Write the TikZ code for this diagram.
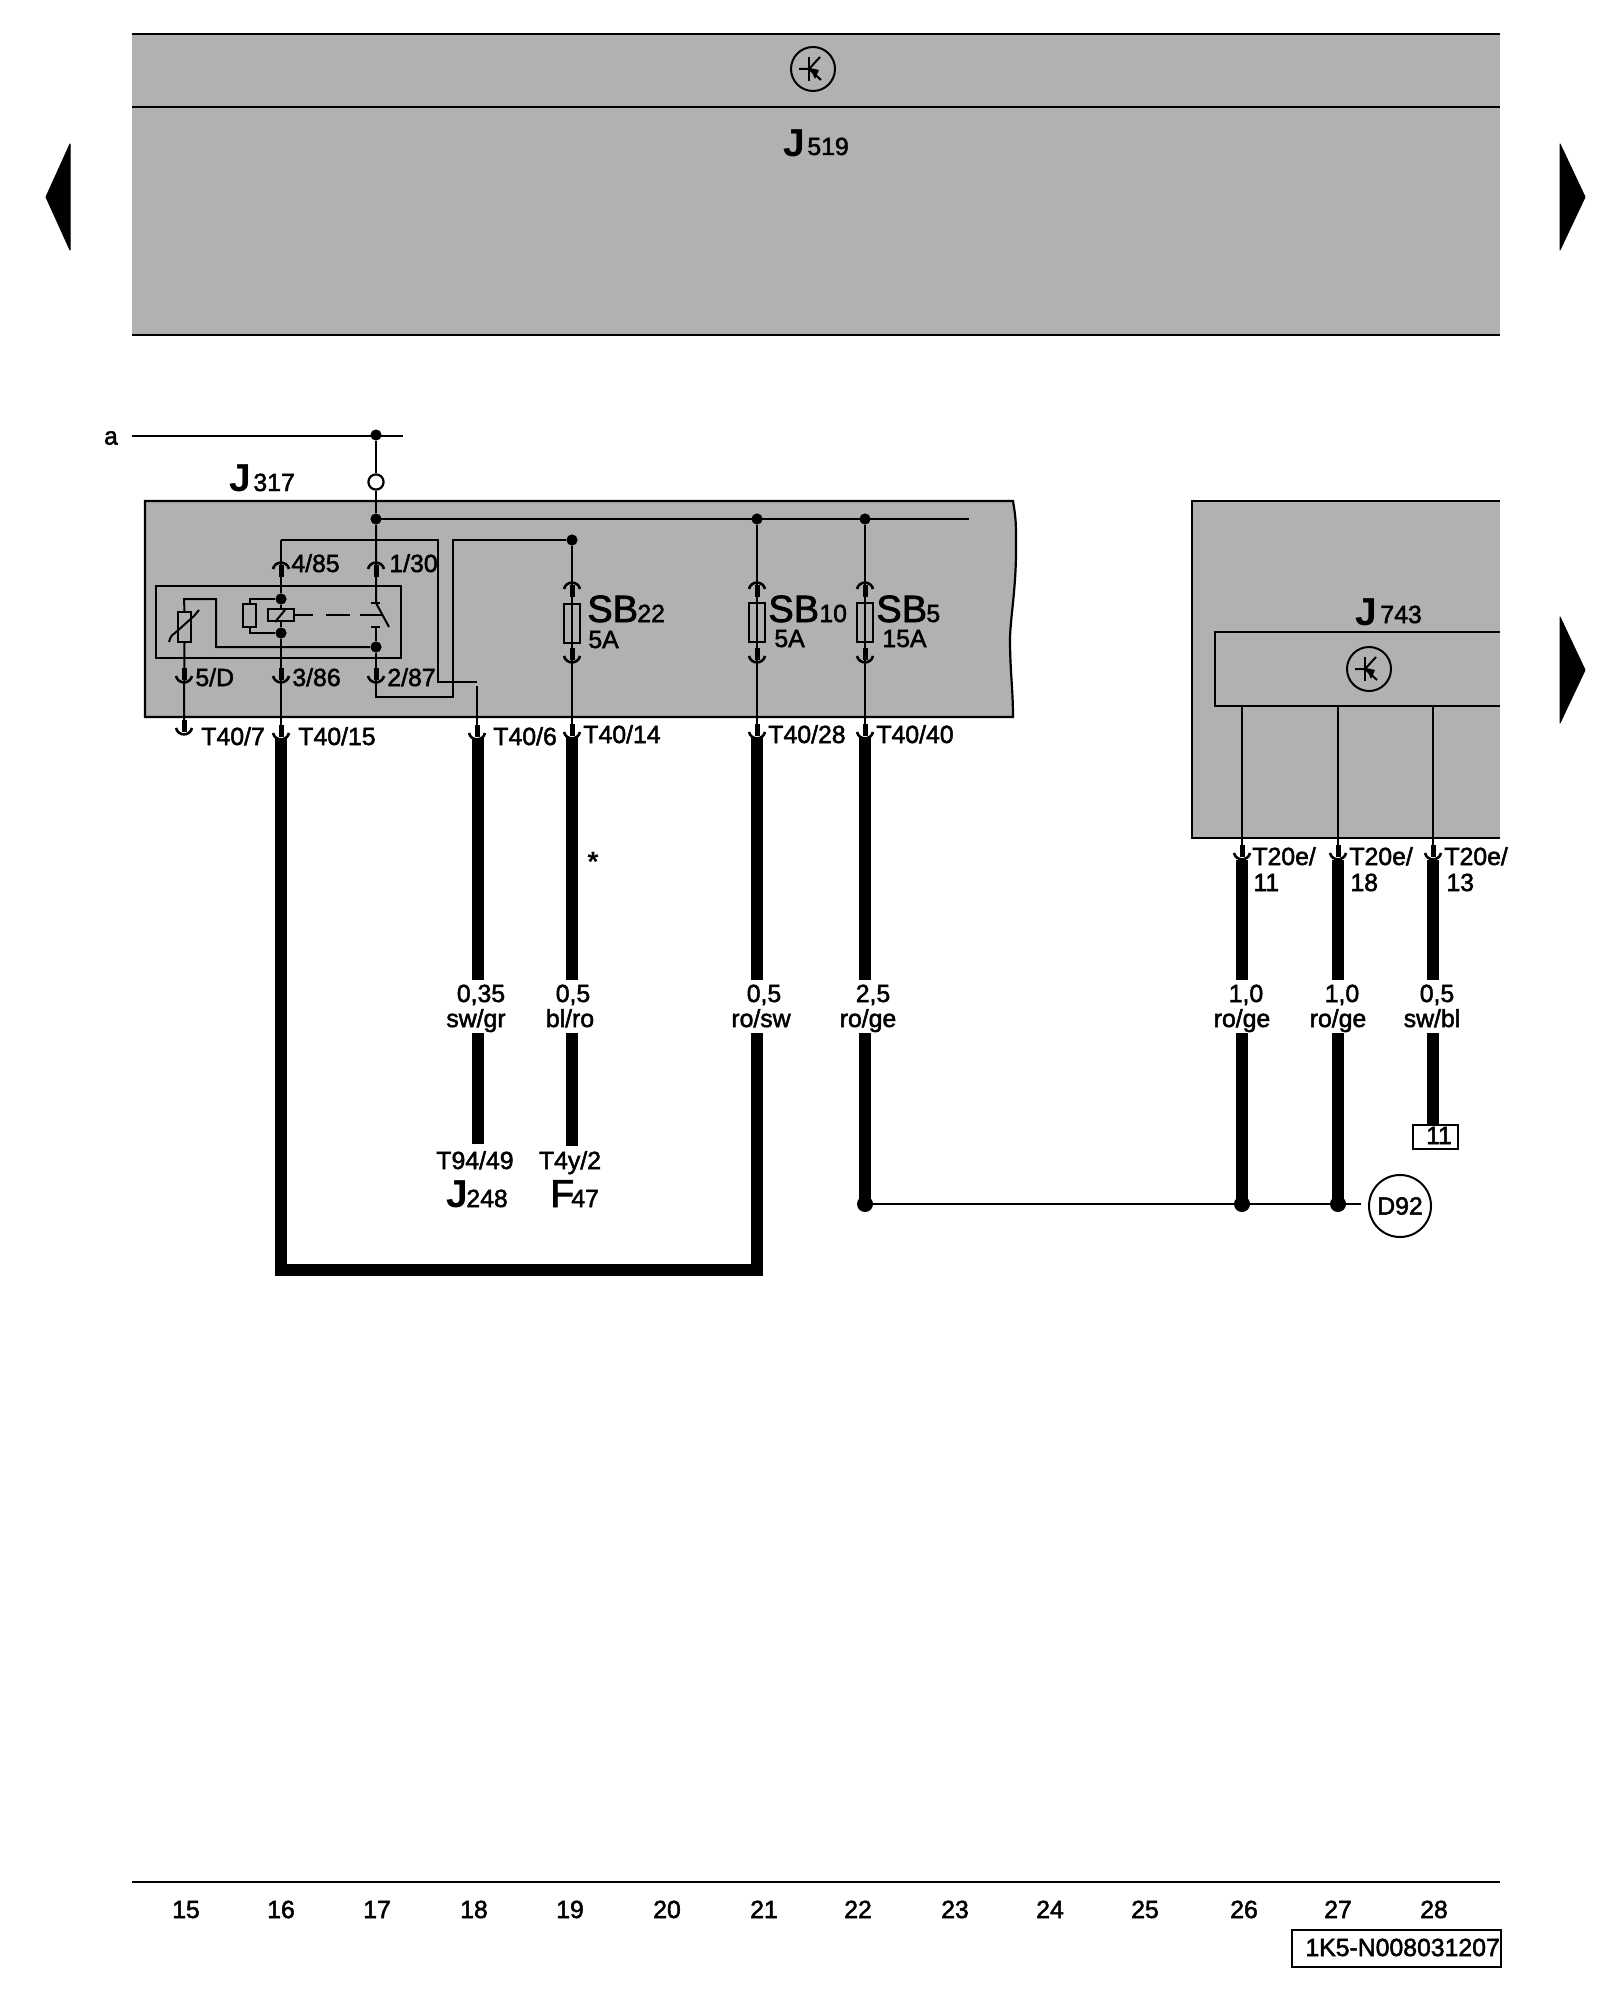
\documentclass[tikz,border=0pt]{standalone}
\usepackage{fontspec}
\setmainfont{Liberation Sans}
\newfontfamily\lab[FakeBold=2]{Liberation Sans}
\definecolor{pane}{HTML}{B1B1B1}
\newcommand\nf{\lab\fontsize{12.4}{14}\selectfont}
\newcommand\pindn[2]{%
  \draw[pinbar] (#1,#2) -- (#1,#2+12);
  \draw[pinarc] (#1-8,#2+8) .. controls (#1-6,#2+16.5) and (#1+6,#2+16.5) .. (#1+8,#2+8);}
\newcommand\pinup[2]{%
  \draw[pinbar] (#1,#2+3) -- (#1,#2+15);
  \draw[pinarc] (#1-8,#2+7) .. controls (#1-6,#2-1.5) and (#1+6,#2-1.5) .. (#1+8,#2+7);}
\newcommand\transsym[2]{%
  \begin{scope}[shift={(#1,#2)}]
    \draw[thin wire] (0,0) circle (22);
    \draw[thin wire, line width=1.3pt] (-4,-12) -- (-4,12);
    \draw[thin wire] (-14,0) -- (-4,0) -- (7,-12);
    \draw[thin wire] (-4,0) -- (8,11);
    \fill (-3,-1) -- (6,1) -- (2,10) -- cycle;
  \end{scope}}
\tikzset{
  x=0.5pt, y=-0.5pt,
  thin wire/.style={line width=1pt, line cap=butt, line join=miter},
  heavy/.style={line width=5.6pt, line cap=butt, line join=miter},
  pinbar/.style={line width=2.5pt, line cap=butt},
  pinarc/.style={line width=1.3pt, line cap=butt},
  panel/.style={line width=1.1pt},
  dot/.style={circle, fill=black, inner sep=0pt, minimum size=5.6pt},
  bigdot/.style={circle, fill=black, inner sep=0pt, minimum size=8pt},
  txt/.style={font=\nf, inner sep=0pt, anchor=base west, text=black},
  ctxt/.style={font=\nf, inner sep=0pt, anchor=base, text=black},
  sb/.style={font=\lab\fontsize{19}{22}\selectfont, inner sep=0pt, anchor=base west},
  jb/.style={font=\bfseries\fontsize{19.5}{22}\selectfont, inner sep=0pt, anchor=base west},
  fr/.style={font=\lab\fontsize{19.5}{22}\selectfont, inner sep=0pt, anchor=base west},
  fuse/.style={draw, line width=1pt, inner sep=0pt, minimum width=8pt, minimum height=19.5pt},
  navtri/.style={fill=black, draw=black, line width=0.5pt, line join=round},
}
\begin{document}
\begin{tikzpicture}
\useasboundingbox (0,0) rectangle (1600,2000);
\fill[white] (0,0) rectangle (1600,2000);

% top control unit
\fill[pane] (132,34) rectangle (1500,335);
\draw[panel] (132,34) -- (1500,34);
\draw[panel] (132,107) -- (1500,107);
\draw[panel] (132,335) -- (1500,335);
\transsym{813}{69}
\node[jb] (j519) at (783,157) {J};
\node[txt] (j519n) at (807,155) {519};

% navigation triangles
\fill[navtri] (70,144) -- (70,250) -- (46,197) -- cycle;
\fill[navtri] (1560,144) -- (1560,250) -- (1585,197) -- cycle;
\fill[navtri] (1560,617) -- (1560,723) -- (1585,670) -- cycle;

% J317 box
\fill[pane] (145,501) -- (1013,501) .. controls (1016,520) .. (1016,550) .. controls (1016,590) and (1010,620) .. (1010,640) .. controls (1010,670) and (1013,690) .. (1013,717) -- (145,717) -- cycle;
\draw[panel] (145,501) -- (1013,501) .. controls (1016,520) .. (1016,550) .. controls (1016,590) and (1010,620) .. (1010,640) .. controls (1010,670) and (1013,690) .. (1013,717) -- (145,717) -- cycle;

% right box J743
\fill[pane] (1192,501) rectangle (1500,838);
\draw[panel] (1500,501) -- (1192,501) -- (1192,838) -- (1500,838);
\draw[panel] (1500,632) -- (1215,632) -- (1215,706) -- (1500,706);
\transsym{1369}{669}
\node[jb] (j743) at (1355,625) {J};
\node[txt] (j743n) at (1380,623) {743};

% feed a
\node[font=\nf, inner sep=0pt] (a) at (111,438) {a};
\coordinate (aL) at (132,436);
\coordinate (aR) at (403,436);
\draw[thin wire] (aL) -- (aR);
\node[dot] (n1) at (376,435) {};
\node[dot] (n2) at (376,519) {};
\node[dot] (n3) at (757,519) {};
\node[dot] (n4) at (865,519) {};
\coordinate (busE) at (969,519);
\draw[thin wire] (n2.center) -- (busE);
\node[circle, draw, line width=1.1pt, fill=white, inner sep=0pt, minimum size=7.6pt] (open) at (376,482) {};
\draw[thin wire] (n1) -- (open);
\draw[thin wire] (open) -- (n2);

\node[jb] (j317) at (229,491) {J};
\node[txt] (j317n) at (253,491) {317};

% relay
\draw[thin wire] (156,586) rectangle (401,658);
\coordinate (r85) at (281,540);
\coordinate (rA) at (438,540);
\coordinate (rB) at (438,682);
\coordinate (rC) at (477,682);
\coordinate (t6a) at (477,686);
\coordinate (t6b) at (477,726);
\draw[thin wire] (r85) -- (rA) -- (rB) -- (rC);
\draw[thin wire] (t6a) -- (t6b);
\node[dot] (c1) at (281,599) {};
\node[dot] (c2) at (281,633) {};
\node[draw, line width=1pt, inner sep=0pt, minimum width=13pt, minimum height=6pt] (coil) at (281,615) {};
\draw[thin wire] (coil.south west) ++(8,0) -- ++(10,-12);
\node[draw, line width=1pt, inner sep=0pt, minimum width=6.5pt, minimum height=11.5pt] (res) at (249.5,615.5) {};
\draw[thin wire] (c1) -| (res.north);
\draw[thin wire] (c2) -| (res.south);
\draw[thin wire] (r85) -- (c1);
\draw[thin wire] (c1) -- (coil.north);
\draw[thin wire] (coil.south) -- (c2);
\coordinate (t15a) at (281,726);
\draw[thin wire] (c2) -- (t15a);
\pinup{281}{562}
\pindn{281}{668}
\node[txt] (l485) at (291,572) {4/85};
\node[txt] (l386) at (292,686) {3/86};

% switch
\coordinate (sw1) at (376,603);
\coordinate (sw2) at (389,627);
\coordinate (sw3) at (376,627);
\node[dot] (c3) at (376,647) {};
\coordinate (sw4) at (376,697);
\coordinate (sw5) at (453,697);
\coordinate (sw6) at (453,540);
\node[dot] (n5) at (572,540) {};
\draw[thin wire] (n2) -- (sw1) -- (sw2);
\draw[thin wire] (371,603) -- (380,603);
\draw[thin wire] (371,627) -- (380,627);
\draw[thin wire] (sw3) -- (c3);
\draw[thin wire] (c3) -- (sw4) -- (sw5) -- (sw6) -- (n5);
\draw[thin wire] (294,615) -- (313,615) (326,615) -- (350,615) (360,615) -- (382,615);
\pinup{376}{562}
\pindn{376}{668}
\node[txt] (l130) at (389,572) {1/30};
\node[txt] (l287) at (387,686) {2/87};

% varistor
\coordinate (v1) at (184,599);
\coordinate (v2) at (216,599);
\coordinate (v3) at (216,647);
\node[draw, line width=1pt, inner sep=0pt, minimum width=6.5pt, minimum height=15pt] (var) at (184.5,627) {};
\draw[thin wire] (var.north) -- (v1) -- (v2) -- (v3) -- (c3);
\draw[thin wire] (169,642) .. controls (171,636) .. (175,633) -- (194,616) .. controls (197,613) .. (199,610);
\coordinate (t7a) at (184,722);
\draw[thin wire] (var.south) -- (t7a);
\pindn{184}{668}
\pindn{184}{720}
\node[txt] (l5d) at (195,686) {5/D};

% fuses and vertical feeds
\node[fuse] (f22) at (572,623.5) {};
\node[fuse] (f10) at (757,622.5) {};
\node[fuse] (f5) at (865,622.5) {};
\coordinate (t14a) at (572,726);
\coordinate (t28a) at (757,726);
\coordinate (t40a) at (865,726);
\draw[thin wire] (n5) -- (t14a);
\draw[thin wire] (n3) -- (t28a);
\draw[thin wire] (n4) -- (t40a);
\pinup{572}{582} \pindn{572}{648}
\pinup{757}{582} \pindn{757}{648}
\pinup{865}{582} \pindn{865}{648}
\node[sb] (sb22) at (587,622) {SB};
\node[txt] (sb22n) at (637,622) {22};
\node[txt] (a22) at (588,648) {5A};
\node[sb] (sb10) at (768,622) {SB};
\node[txt] (sb10n) at (819,622) {10};
\node[txt] (a10) at (774,647) {5A};
\node[sb] (sb5) at (876,622) {SB};
\node[txt] (sb5n) at (926,622) {5};
\node[txt] (a5) at (882,647) {15A};

% T40 pins
\pindn{281}{725} \pindn{477}{725} \pindn{572}{724} \pindn{757}{724} \pindn{865}{724}
\node[txt] (t407) at (201,745) {T40/7};
\node[txt] (t4015) at (298,745) {T40/15};
\node[txt] (t406) at (493,745) {T40/6};
\node[txt] (t4014) at (583,743) {T40/14};
\node[txt] (t4028) at (768,743) {T40/28};
\node[txt] (t4040) at (876,743) {T40/40};

% heavy wires
\coordinate (h15) at (281,738);
\coordinate (hB) at (281,1270);
\coordinate (hC) at (757,1270);
\coordinate (hD) at (757,1033);
\coordinate (hE) at (757,980);
\coordinate (hF) at (757,738);
\draw[heavy] (h15) -- (hB) -- (hC) -- (hD);
\draw[heavy] (hE) -- (hF);
\draw[heavy] (478,738) -- (478,980) (478,1033) -- (478,1144);
\draw[heavy] (572,738) -- (572,980) (572,1033) -- (572,1146);
\node[bigdot] (d1) at (865,1204) {};
\node[bigdot] (d2) at (1242,1204) {};
\node[bigdot] (d3) at (1338,1204) {};
\draw[heavy] (865,738) -- (865,980) (865,1033) -- (d1.center);
\draw[heavy] (1242,860) -- (1242,980) (1242,1033) -- (d2.center);
\draw[heavy] (1338,860) -- (1338,980) (1338,1033) -- (d3.center);
\node[draw, line width=1pt, inner sep=0pt, minimum size=31pt, circle, font=\nf] (d92) at (1400,1206) {D92};
\coordinate (d92w) at (1361,1204);
\draw[thin wire] (d1) -- (d2);
\draw[thin wire] (d2) -- (d3);
\draw[thin wire] (d3) -- (d92w);
\node[draw, line width=1pt, inner sep=0pt, minimum width=22.5pt, minimum height=12pt] (g11) at (1435.5,1137) {};
\node[ctxt] (g11t) at (1439,1144) {11};
\draw[heavy] (1433,860) -- (1433,980) (1433,1033) -- (g11.north -| 1433,0);

% J743 wires
\coordinate (u1) at (1242,706); \coordinate (u2) at (1338,706); \coordinate (u3) at (1433,706);
\coordinate (v1b) at (1242,848); \coordinate (v2b) at (1338,848); \coordinate (v3b) at (1433,848);
\draw[thin wire] (u1) -- (v1b);
\draw[thin wire] (u2) -- (v2b);
\draw[thin wire] (u3) -- (v3b);
\pindn{1242}{845} \pindn{1338}{845} \pindn{1433}{845}
\node[txt] (t1a) at (1252,865) {T20e/};
\node[txt] (t1b) at (1253,891) {11};
\node[txt] (t2a) at (1349,865) {T20e/};
\node[txt] (t2b) at (1350,891) {18};
\node[txt] (t3a) at (1444,865) {T20e/};
\node[txt] (t3b) at (1446,891) {13};

% wire labels
\node[font=\bfseries\fontsize{14}{14}\selectfont, inner sep=0pt] (star) at (593,862) {*};
\node[ctxt] (w1a) at (481,1002) {0,35};
\node[ctxt] (w1b) at (476,1027) {sw/gr};
\node[ctxt] (w2a) at (573,1002) {0,5};
\node[ctxt] (w2b) at (570,1027) {bl/ro};
\node[ctxt] (w3a) at (764,1002) {0,5};
\node[ctxt] (w3b) at (761,1027) {ro/sw};
\node[ctxt] (w4a) at (873,1002) {2,5};
\node[ctxt] (w4b) at (868,1027) {ro/ge};
\node[ctxt] (w5a) at (1246,1002) {1,0};
\node[ctxt] (w5b) at (1242,1027) {ro/ge};
\node[ctxt] (w6a) at (1342,1002) {1,0};
\node[ctxt] (w6b) at (1338,1027) {ro/ge};
\node[ctxt] (w7a) at (1437,1002) {0,5};
\node[ctxt] (w7b) at (1432,1027) {sw/bl};
\node[ctxt] (t9449) at (475,1169) {T94/49};
\node[ctxt] (t4y2) at (570,1169) {T4y/2};
\node[jb] (j248) at (446,1207) {J};
\node[txt] (j248n) at (466,1207) {248};
\node[fr] (f47) at (550,1207) {F};
\node[txt] (f47n) at (571,1207) {47};

% footer
\coordinate (fL) at (132,1882);
\coordinate (fR) at (1500,1882);
\draw[panel] (fL) -- (fR);
\foreach \xx/\nn in {186/15,281/16,377/17,474/18,570/19,667/20,764/21,858/22,955/23,1050/24,1145/25,1244/26,1338/27,1434/28}
  \node[ctxt] (col\nn) at (\xx,1918) {\nn};
\node[draw, line width=1.1pt, inner sep=0pt, minimum width=104.5pt, minimum height=18.5pt] (stamp) at (1396.5,1948.5) {};
\node[txt] (stampt) at (1305,1956) {1K5-N008031207};
\end{tikzpicture}
\end{document}
